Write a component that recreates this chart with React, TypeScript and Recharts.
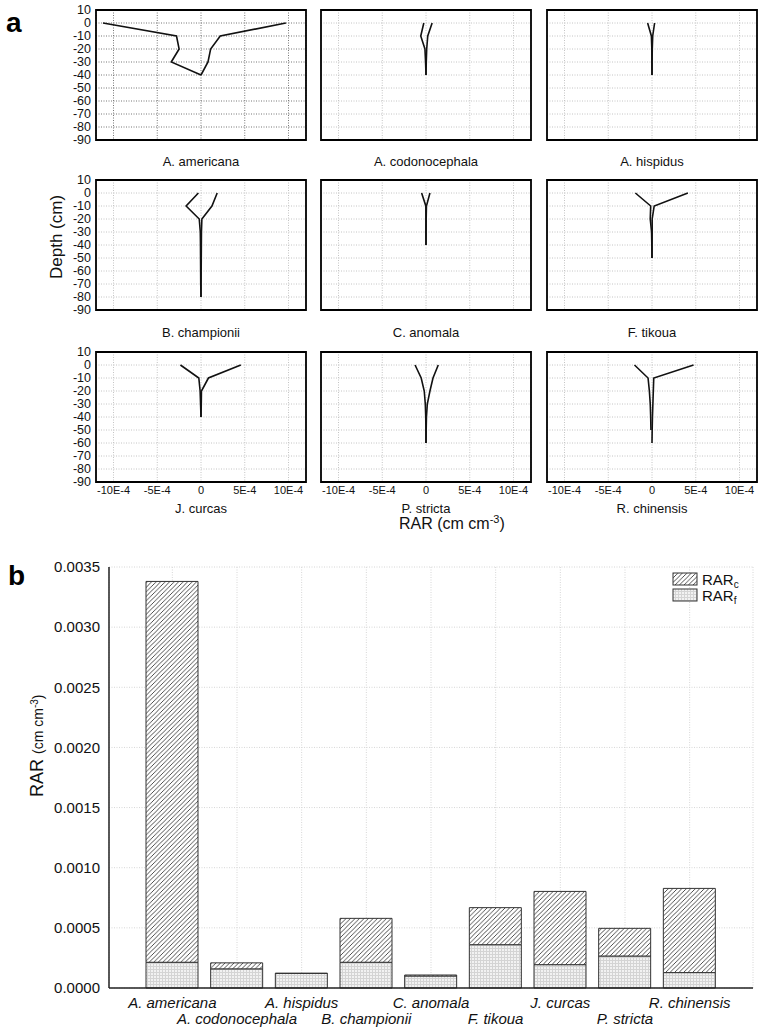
import React from 'react';
import {
  LineChart, Line, XAxis, YAxis, CartesianGrid, ReferenceArea,
  BarChart, Bar,
} from 'recharts';

const FONT = '"Liberation Sans", Arial, sans-serif';

// ---------- Panel a: depth profiles (RAR values in units of 1E-4 cm cm-3) ----------
const depthTicks = [10, 0, -10, -20, -30, -40, -50, -60, -70, -80, -90];
const rarTicks = [-10e-4, -5e-4, 0, 5e-4, 10e-4];
const rarTickLabels = ['-10E-4', '-5E-4', '0', '5E-4', '10E-4'];

const depth0to40 = [0, -10, -20, -30, -40];
const depth0to50 = [0, -10, -20, -30, -40, -50];
const depth0to60 = [0, -10, -20, -30, -40, -50, -60];
const depth0to80 = [0, -10, -20, -30, -40, -50, -60, -70, -80];

const americanaLeft = [-11.2, -2.8, -2.5, -3.4, 0];
const americanaRight = [9.7, 2.2, 1.1, 0.8, 0];
const codonocephalaLeft = [-0.25, -0.6, -0.12, -0.05, 0];
const codonocephalaRight = [0.7, 0.2, 0.08, 0.03, 0];
const hispidusLeft = [-0.5, -0.07, -0.02, -0.01, 0];
const hispidusRight = [0.3, 0.08, 0.03, 0.01, 0];
const championiiLeft = [-0.3, -1.7, -0.2, -0.08, -0.06, -0.05, -0.04, -0.03, 0];
const championiiRight = [1.85, 1.25, 0.1, 0.05, 0.04, 0.03, 0.02, 0.01, 0];
const anomalaLeft = [-0.5, -0.02, -0.01, -0.01, 0];
const anomalaRight = [0.45, 0.05, 0.02, 0.01, 0];
const tikouaLeft = [-1.9, -0.15, -0.2, -0.05, -0.02, 0];
const tikouaRight = [4.1, 0.25, 0.02, 0.02, 0.01, 0];
const curcasLeft = [-2.35, -0.25, -0.1, -0.05, 0];
const curcasRight = [4.55, 0.85, 0.05, 0.03, 0];
const strictaLeft = [-1.25, -0.55, -0.2, -0.08, -0.03, -0.01, 0];
const strictaRight = [1.4, 0.8, 0.45, 0.15, 0.05, 0.02, 0];
const chinensisLeft = [-2.0, -0.45, -0.3, -0.2, -0.15, -0.12];
const chinensisRight = [4.75, 0.2, 0.15, 0.1, 0.05, 0.02, 0];

const panelNames = [
  'A. americana', 'A. codonocephala', 'A. hispidus',
  'B. championii', 'C. anomala', 'F. tikoua',
  'J. curcas', 'P. stricta', 'R. chinensis',
];

const toPts = (vals: number[], depths: number[]) =>
  vals.map((v, i) => ({ x: v * 1e-4, y: depths[i] }));

const panels = [
  { l: toPts(americanaLeft, depth0to40), r: toPts(americanaRight, depth0to40) },
  { l: toPts(codonocephalaLeft, depth0to40), r: toPts(codonocephalaRight, depth0to40) },
  { l: toPts(hispidusLeft, depth0to40), r: toPts(hispidusRight, depth0to40) },
  { l: toPts(championiiLeft, depth0to80), r: toPts(championiiRight, depth0to80) },
  { l: toPts(anomalaLeft, depth0to40), r: toPts(anomalaRight, depth0to40) },
  { l: toPts(tikouaLeft, depth0to50), r: toPts(tikouaRight, depth0to50) },
  { l: toPts(curcasLeft, depth0to40), r: toPts(curcasRight, depth0to40) },
  { l: toPts(strictaLeft, depth0to60), r: toPts(strictaRight, depth0to60) },
  { l: toPts(chinensisLeft, depth0to50), r: toPts(chinensisRight, depth0to60) },
];

const minorX = Array.from({ length: 25 }, (_, i) => (i - 12) * 1e-4);
const minorY = Array.from({ length: 21 }, (_, i) => 10 - i * 5);

const colLefts = [96, 321, 547];
const rowTops = [10, 180, 352];
const PW = 210;
const PH = 130;
const M = 9;
const YW = 40;

const NoLabel = () => <g />;

function Panel({ idx }: { idx: number }) {
  const col = idx % 3;
  const row = Math.floor(idx / 3);
  const showY = col === 0;
  const showX = row === 2;
  const p = panels[idx];
  const gridColor = idx === 0 ? '#777' : '#c4c4c4';
  const w = YW + PW + 2 * M;
  const h = PH + 2 * M + 20;
  const dom: [number, number] = [-12e-4, 12e-4];
  const ydom: [number, number] = [-90, 10];
  return (
    <div style={{ position: 'absolute', left: colLefts[col] - M - YW, top: rowTops[row] - M }}>
      <LineChart width={w} height={h} margin={{ top: M, right: M, bottom: M, left: M }}>
        <CartesianGrid stroke={gridColor} strokeDasharray="1 1.5" />
        <XAxis
          type="number" dataKey="x" domain={dom} allowDataOverflow ticks={rarTicks} interval={0}
          tickFormatter={(v: number) => rarTickLabels[rarTicks.indexOf(v)] ?? ''}
          height={20} tickLine={false} axisLine={false} tickSize={0} tickMargin={4}
          tick={showX ? { fontSize: 11, fill: '#111', fontFamily: FONT } : NoLabel}
        />
        <YAxis
          type="number" dataKey="y" domain={ydom} allowDataOverflow ticks={depthTicks} interval={0}
          width={YW} tickLine={false} axisLine={false} tickSize={0} tickMargin={5}
          tick={showY ? { fontSize: 12.5, fill: '#111', fontFamily: FONT } : NoLabel}
        />
        <XAxis xAxisId="top" orientation="top" mirror height={0} type="number" domain={dom}
          allowDataOverflow ticks={minorX} interval={0} tick={NoLabel} tickSize={3}
          axisLine={false} tickLine={{ stroke: '#000' }} />
        <XAxis xAxisId="bot" orientation="bottom" mirror height={0} type="number" domain={dom}
          allowDataOverflow ticks={minorX} interval={0} tick={NoLabel} tickSize={3}
          axisLine={false} tickLine={{ stroke: '#000' }} />
        <YAxis yAxisId="lft" orientation="left" mirror width={0} type="number" domain={ydom}
          allowDataOverflow ticks={minorY} interval={0} tick={NoLabel} tickSize={3}
          axisLine={false} tickLine={{ stroke: '#000' }} />
        <YAxis yAxisId="rgt" orientation="right" mirror width={0} type="number" domain={ydom}
          allowDataOverflow ticks={minorY} interval={0} tick={NoLabel} tickSize={3}
          axisLine={false} tickLine={{ stroke: '#000' }} />
        <Line data={p.l} dataKey="y" stroke="#111" strokeWidth={1.6} dot={false}
          isAnimationActive={false} type="linear" />
        <Line data={p.r} dataKey="y" stroke="#111" strokeWidth={1.6} dot={false}
          isAnimationActive={false} type="linear" />
        <ReferenceArea x1={-12e-4} x2={12e-4} y1={-90} y2={10} fill="none"
          stroke="#000" strokeWidth={1.8} ifOverflow="visible" />
      </LineChart>
    </div>
  );
}

// ---------- Panel b: stacked bars ----------
const species = [
  'A. americana', 'A. codonocephala', 'A. hispidus', 'B. championii', 'C. anomala',
  'F. tikoua', 'J. curcas', 'P. stricta', 'R. chinensis',
];
const rarF = [0.000214, 0.000159, 0.000121, 0.000214, 0.000100, 0.000360, 0.000194, 0.000266, 0.000128];
const rarC = [0.003166, 0.000050, 0.000002, 0.000365, 0.000008, 0.000308, 0.000609, 0.000230, 0.000700];
const barTicks = [0, 0.0005, 0.001, 0.0015, 0.002, 0.0025, 0.003, 0.0035];

const barData = species.map((name, i) => ({ name, f: rarF[i], c: rarC[i] }));

const SpeciesTick = (props: any) => {
  const { x, y, payload, index } = props;
  const second = index % 2 === 1;
  return (
    <text x={x} y={y + (second ? 36 : 20)} textAnchor="middle" fontSize={15}
      fontStyle="italic" fill="#111" fontFamily={FONT}>
      {payload.value}
    </text>
  );
};

function BarPanel() {
  const dom: [number, number] = [0, 0.0035];
  return (
    <div style={{ position: 'absolute', left: 0, top: 540 }}>
      <BarChart width={761} height={490} data={barData}
        margin={{ top: 27, right: 8, bottom: 1, left: 50 }} barSize={52}>
        <CartesianGrid stroke="#d6d6d6" strokeDasharray="1 1.5" />
        <XAxis dataKey="name" interval={0} padding={{ left: 31, right: 31 }} height={41}
          tickLine={false} tickSize={0} tickMargin={0}
          axisLine={{ stroke: '#222', strokeWidth: 1.5 }} tick={<SpeciesTick />} />
        <YAxis domain={dom} ticks={barTicks} interval={0} width={59}
          tickFormatter={(v: number) => v.toFixed(4)} tickLine={false} tickSize={0} tickMargin={9}
          axisLine={{ stroke: '#222', strokeWidth: 1.5 }}
          tick={{ fontSize: 15, fill: '#111', fontFamily: FONT }} />
        <YAxis yAxisId="inner" orientation="left" mirror width={0} domain={dom} ticks={barTicks}
          interval={0} tick={NoLabel} tickSize={4} axisLine={false} tickLine={{ stroke: '#333' }} />
        <YAxis yAxisId="rgt" orientation="right" mirror width={0} domain={dom} ticks={barTicks}
          interval={0} tick={NoLabel} tickSize={0} tickLine={false}
          axisLine={{ stroke: '#222', strokeWidth: 1.5 }} />
        <XAxis xAxisId="top" dataKey="name" orientation="top" mirror height={0}
          padding={{ left: 31, right: 31 }} tick={NoLabel} tickLine={false}
          axisLine={{ stroke: '#222', strokeWidth: 1.5 }} />
        <Bar dataKey="f" stackId="s" fill="url(#stipple)" stroke="#333" strokeWidth={1}
          isAnimationActive={false} />
        <Bar dataKey="c" stackId="s" fill="url(#hatch)" stroke="#333" strokeWidth={1}
          isAnimationActive={false} />
      </BarChart>
    </div>
  );
}

function Defs() {
  return (
    <svg width={0} height={0} style={{ position: 'absolute' }}>
      <defs>
        <pattern id="hatch" patternUnits="userSpaceOnUse" width={4.5} height={4.5}>
          <rect width={4.5} height={4.5} fill="#fff" />
          <path d="M-1,1 l2,-2 M0,4.5 l4.5,-4.5 M3.5,5.5 l2,-2" stroke="#222" strokeWidth={0.8} />
        </pattern>
        <pattern id="stipple" patternUnits="userSpaceOnUse" width={3} height={3}>
          <rect width={3} height={3} fill="#f2f2f2" />
          <rect width={3} height={1} fill="#d4d4d4" />
          <rect width={1} height={3} fill="#d4d4d4" />
        </pattern>
      </defs>
    </svg>
  );
}

function Overlay() {
  const labelY = [162, 333, 509];
  return (
    <svg width={761} height={1030} style={{ position: 'absolute', left: 0, top: 0, pointerEvents: 'none' }}
      fontFamily={FONT}>
      <text x={6} y={32} fontSize={28} fontWeight="bold" fill="#000">a</text>
      <text x={8} y={585} fontSize={28} fontWeight="bold" fill="#000">b</text>
      {panelNames.map((n, i) => (
        <text key={n} x={colLefts[i % 3] + PW / 2} y={labelY[Math.floor(i / 3)] + 4}
          textAnchor="middle" fontSize={13} fill="#111">{n}</text>
      ))}
      <text transform="translate(62,237) rotate(-90)" textAnchor="middle" fontSize={17} fill="#111">
        Depth  (cm)
      </text>
      <text x={399} y={529} fontSize={16} fill="#111">
        RAR  (cm cm<tspan dy={-6} fontSize={11}>-3</tspan><tspan dy={6}>)</tspan>
      </text>
      <text transform="translate(43,797) rotate(-90)" fontSize={14} fill="#111">
        <tspan fontSize={18}>RAR </tspan>(cm cm<tspan dy={-5} fontSize={10}>-3</tspan><tspan dy={5}>)</tspan>
      </text>
      <rect x={673} y={573} width={24} height={12} fill="url(#hatch)" stroke="#333" />
      <text x={702} y={585} fontSize={15} fill="#111">RAR<tspan dy={3} fontSize={10}>c</tspan></text>
      <rect x={673} y={589} width={24} height={12} fill="url(#stipple)" stroke="#333" />
      <text x={702} y={601} fontSize={15} fill="#111">RAR<tspan dy={3} fontSize={10}>f</tspan></text>
    </svg>
  );
}

export default function App() {
  return (
    <div style={{ position: 'absolute', left: 0, top: 0, width: 761, height: 1030, background: '#fff', fontFamily: FONT }}>
      <Defs />
      {panels.map((_, i) => <Panel key={i} idx={i} />)}
      <BarPanel />
      <Overlay />
    </div>
  );
}
